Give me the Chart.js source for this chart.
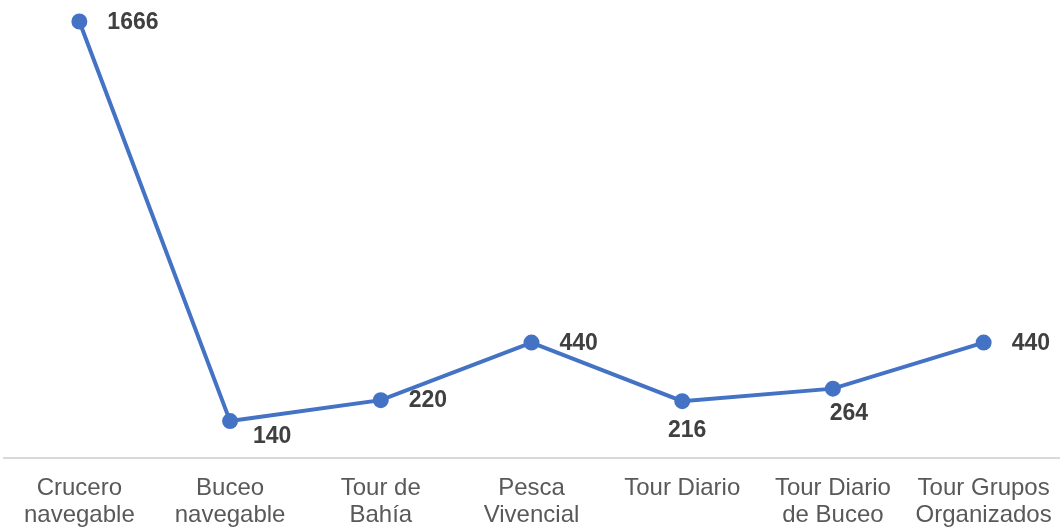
<!DOCTYPE html>
<html>
<head>
<meta charset="utf-8">
<script src="https://cdn.jsdelivr.net/npm/chart.js@4/dist/chart.umd.min.js"></script>
<style>
  html, body { margin: 0; padding: 0; background: #fff; overflow: hidden; }
  #wrap { width: 1060px; height: 546px; }
</style>
</head>
<body>
<div id="wrap"><canvas id="chart"></canvas></div>
<script>
var categories = [
  ['Crucero', 'navegable'],
  ['Buceo', 'navegable'],
  ['Tour de', 'Bahía'],
  ['Pesca', 'Vivencial'],
  'Tour Diario',
  ['Tour Diario', 'de Buceo'],
  ['Tour Grupos', 'Organizados']
];
var values = [1666, 140, 220, 440, 216, 264, 440];
// where each value label sits relative to its point
var labelAlign = ['right', 'belowRight', 'right', 'right', 'below', 'belowSlight', 'right'];

var valueLabels = {
  id: 'valueLabels',
  afterDatasetsDraw: function (chart) {
    var ctx = chart.ctx;
    var meta = chart.getDatasetMeta(0);
    ctx.save();
    ctx.font = 'bold 23px "Liberation Sans", Arial, sans-serif';
    ctx.fillStyle = '#404040';
    ctx.textBaseline = 'middle';
    meta.data.forEach(function (pt, i) {
      var txt = String(values[i]);
      var a = labelAlign[i];
      var x = pt.x, y = pt.y;
      if (a == 'right') {
        ctx.textAlign = 'left';
        ctx.fillText(txt, x + 28, y + 1);
      } else if (a == 'belowRight') {
        ctx.textAlign = 'center';
        ctx.fillText(txt, x + 42, y + 16);
      } else if (a == 'belowSlight') {
        ctx.textAlign = 'center';
        ctx.fillText(txt, x + 16, y + 25);
      } else {
        ctx.textAlign = 'center';
        ctx.fillText(txt, x + 5, y + 29);
      }
    });
    ctx.restore();
  }
};

new Chart(document.getElementById('chart').getContext('2d'), {
  type: 'line',
  data: {
    labels: categories,
    datasets: [{
      data: values,
      borderColor: '#4472C4',
      backgroundColor: '#4472C4',
      borderWidth: 4,
      pointRadius: 6,
      pointHoverRadius: 6,
      tension: 0,
      clip: false
    }]
  },
  options: {
    responsive: true,
    maintainAspectRatio: false,
    animation: false,
    layout: { autoPadding: false, padding: { top: 10, left: 4, right: 1, bottom: 0 } },
    plugins: {
      legend: { display: false },
      tooltip: { enabled: false }
    },
    scales: {
      x: {
        offset: true,
        grid: { display: false, drawTicks: false },
        border: { display: true, color: '#d9d9d9', width: 2 },
        afterFit: function (scale) {
          scale.paddingLeft = 0;
          scale.paddingRight = 0;
        },
        ticks: {
          color: '#595959',
          padding: 17,
          maxRotation: 0,
          autoSkip: false,
          font: { family: '"Liberation Sans", Arial, sans-serif', size: 24, lineHeight: 1.13 }
        }
      },
      y: {
        display: false,
        min: 0,
        max: 1710
      }
    }
  },
  plugins: [valueLabels]
});
</script>
</body>
</html>
